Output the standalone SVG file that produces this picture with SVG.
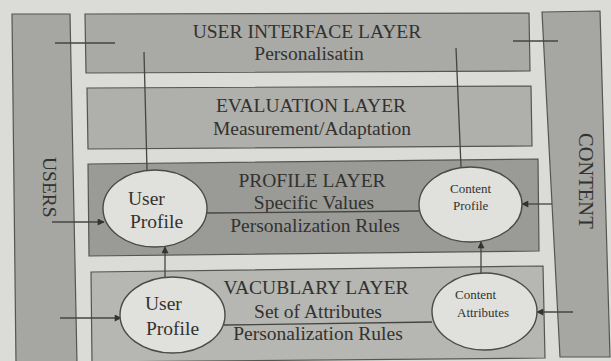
<svg xmlns="http://www.w3.org/2000/svg" width="611" height="361" viewBox="0 0 611 361">
  <style>
    .layer { stroke: #555552; stroke-width: 1.2; }
    .ui { fill: #a9a9a5; }
    .eval { fill: #afafab; }
    .profile { fill: #9a9a96; }
    .vocab { fill: #b6b6b2; }
    .side { fill: #a6a6a2; stroke: #555552; stroke-width: 1.2; }
    .node { fill: #e0e0dc; stroke: #4a4a48; stroke-width: 1.4; }
    .t { font-family: "Liberation Serif", "Times New Roman", serif; fill: #323230; }
    .big { font-size: 19.5px; }
    .small { font-size: 13px; }
    .mid { text-anchor: middle; }
    .conn { stroke: #454543; stroke-width: 1.3; fill: none; }
    .arrow { marker-end: url(#head); }
  </style>
  <defs>
    <marker id="head" viewBox="0 0 10 10" refX="9" refY="5" markerWidth="8" markerHeight="7" markerUnits="userSpaceOnUse" orient="auto">
      <path d="M0,0 L10,5 L0,10 z" fill="#333331"/>
    </marker>
  </defs>

  <!-- paper -->
  <rect x="0" y="0" width="611" height="361" fill="#dbdbd7"/>

  <!-- side columns -->
  <g id="users">
    <polygon class="side" points="12,14 70,14 77,364 16,364"/>
    <text class="t big" x="43" y="157" transform="rotate(90 43 157)">USERS</text>
  </g>
  <g id="content">
    <polygon class="side" points="542,12 600,11 610,357 560,357"/>
    <text class="t big" x="579" y="133" transform="rotate(90 579 133)" style="font-size:20.5px">CONTENT</text>
  </g>

  <!-- layers -->
  <g id="ui-layer">
    <polygon class="layer ui" points="85,14 529,13 530,71 86,73"/>
    <text class="t big mid" x="307" y="38">USER INTERFACE LAYER</text>
    <text class="t big mid" x="309" y="60">Personalisatin</text>
  </g>
  <g id="evaluation-layer">
    <polygon class="layer eval" points="87,88 531,86 532,146 88,149"/>
    <text class="t big mid" x="311" y="112">EVALUATION LAYER</text>
    <text class="t big mid" x="312" y="135">Measurement/Adaptation</text>
  </g>
  <g id="profile-layer">
    <polygon class="layer profile" points="88,164 538,159 539,251 89,256"/>
    <text class="t big mid" x="312" y="187">PROFILE LAYER</text>
    <text class="t big mid" x="314" y="209">Specific Values</text>
    <text class="t big mid" x="315" y="232">Personalization Rules</text>
  </g>
  <g id="vocabulary-layer">
    <polygon class="layer vocab" points="91,272 543,266 545,358 92,362"/>
    <text class="t big mid" x="316" y="294">VACUBLARY LAYER</text>
    <text class="t big mid" x="318" y="318">Set of Attributes</text>
    <text class="t big mid" x="318" y="340">Personalization Rules</text>
  </g>

  <!-- connectors -->
  <g id="connectors">
    <line class="conn" x1="55" y1="43" x2="115" y2="43"/>
    <line class="conn" x1="513" y1="41" x2="558" y2="41"/>
    <line class="conn" x1="144" y1="52" x2="147" y2="170"/>
    <line class="conn" x1="456" y1="48" x2="461" y2="167"/>
    <line class="conn" x1="207" y1="213" x2="419" y2="211"/>
    <line class="conn" x1="224" y1="325" x2="432" y2="322"/>
    <line class="conn arrow" x1="52" y1="222" x2="104" y2="222"/>
    <line class="conn arrow" x1="60" y1="318" x2="121" y2="318"/>
    <line class="conn arrow" x1="165" y1="277" x2="165" y2="247"/>
    <line class="conn arrow" x1="481" y1="273" x2="481" y2="242"/>
    <line class="conn arrow" x1="552" y1="204" x2="522" y2="204"/>
    <line class="conn arrow" x1="573" y1="312" x2="537" y2="312"/>
  </g>

  <!-- profile nodes -->
  <g id="user-profile">
    <ellipse class="node" cx="155" cy="208.5" rx="52" ry="38.5"/>
    <text class="t big" x="128" y="205">User</text>
    <text class="t big" x="130" y="228">Profile</text>
  </g>
  <g id="user-profile-vocab">
    <ellipse class="node" cx="172.5" cy="315" rx="52.5" ry="38"/>
    <text class="t big" x="145" y="310">User</text>
    <text class="t big" x="146" y="335">Profile</text>
  </g>
  <g id="content-profile">
    <ellipse class="node" cx="470.5" cy="204.5" rx="51.5" ry="37.5"/>
    <text class="t small" x="450" y="193">Content</text>
    <text class="t small" x="453" y="210">Profile</text>
  </g>
  <g id="content-attributes">
    <ellipse class="node" cx="484.5" cy="311.5" rx="52.5" ry="38.5"/>
    <text class="t small" x="455" y="299">Content</text>
    <text class="t small" x="457" y="317">Attributes</text>
  </g>
</svg>
